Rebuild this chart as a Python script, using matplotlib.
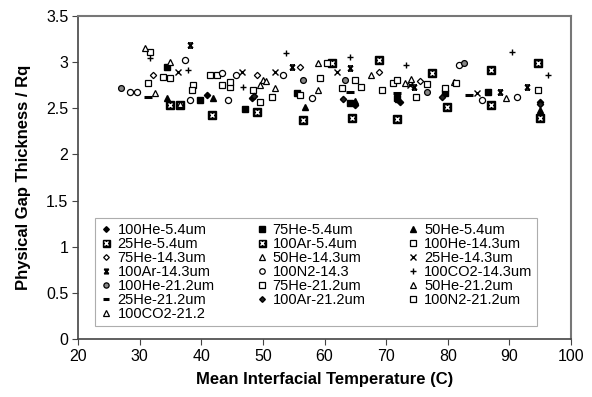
import matplotlib
matplotlib.use("Agg")
import matplotlib.pyplot as plt
from matplotlib.path import Path

plt.rcParams['font.family'] = ['Liberation Sans', 'DejaVu Sans']

# ---------------- data ----------------
he100_54_x = [40.9, 48.2, 64.9, 72.2, 94.9]
he100_54_y = [2.64, 2.61, 2.54, 2.57, 2.57]
he75_54_x = [34.4, 39.8, 47.1, 55.5, 64.1, 71.7, 79.5, 86.5]
he75_54_y = [2.95, 2.59, 2.49, 2.67, 2.56, 2.61, 2.67, 2.68]
he50_54_x = [34.4, 41.9, 56.8, 64.9, 72.0, 94.9]
he50_54_y = [2.61, 2.61, 2.51, 2.58, 2.60, 2.48]
he25_54_x = [34.9, 41.7, 49.0, 56.5, 64.4, 71.7, 79.8, 87.1, 94.9]
he25_54_y = [2.54, 2.43, 2.46, 2.37, 2.39, 2.38, 2.51, 2.54, 2.39]
ar100_54_x = [36.5, 61.2, 68.9, 77.5, 87.1, 94.6]
ar100_54_y = [2.54, 2.99, 3.02, 2.88, 2.91, 2.99]
he100_143_x = [31.7, 34.9, 42.5, 44.6, 49.5, 56.1, 64.9, 71.1, 79.5, 94.6]
he100_143_y = [3.11, 2.83, 2.86, 2.73, 2.57, 2.64, 2.81, 2.77, 2.72, 2.70]
he75_143_x = [32.2, 49.0, 56.0, 68.9, 75.5]
he75_143_y = [2.86, 2.86, 2.95, 2.89, 2.80]
he50_143_x = [34.9, 50.0, 58.9, 67.6, 81.0]
he50_143_y = [3.00, 2.81, 2.99, 2.86, 2.78]
he25_143_x = [36.2, 46.6, 51.9, 62.1, 84.7, 73.8]
he25_143_y = [2.89, 2.89, 2.89, 2.89, 2.67, 2.75]
ar100_143_x = [38.2, 54.8, 64.1, 74.6, 88.4, 92.8]
ar100_143_y = [3.19, 2.95, 2.94, 2.73, 2.68, 2.73]
n2100_143_x = [37.3, 43.3, 45.6, 53.2, 38.2, 44.3, 57.9, 81.9, 85.5, 91.3, 28.4, 29.6]
n2100_143_y = [3.02, 2.88, 2.86, 2.86, 2.59, 2.59, 2.61, 2.97, 2.59, 2.62, 2.68, 2.68]
co2100_143_x = [31.7, 37.8, 46.7, 53.8, 64.1, 73.3, 90.5, 96.2]
co2100_143_y = [3.04, 2.91, 2.73, 3.10, 3.06, 2.97, 3.11, 2.86]
he100_212_x = [27.0, 63.3, 76.7, 56.5, 82.7]
he100_212_y = [2.72, 2.81, 2.68, 2.81, 2.99]
he75_212_x = [33.8, 38.6, 43.3, 48.4, 59.2, 66.0, 71.7, 74.9, 81.4]
he75_212_y = [2.84, 2.75, 2.75, 2.70, 2.83, 2.73, 2.81, 2.62, 2.77]
he50_212_x = [32.5, 49.5, 58.9, 73.0, 89.5]
he50_212_y = [2.67, 2.75, 2.70, 2.77, 2.61]
he25_212_x = [31.3, 64.1, 71.7, 83.5]
he25_212_y = [2.62, 2.68, 2.67, 2.64]
ar100_212_x = [48.5, 63.0, 79.0, 95.0]
ar100_212_y = [2.63, 2.60, 2.62, 2.55]
n2100_212_x = [31.3, 38.5, 41.4, 44.6, 51.4, 60.4, 62.8, 69.4, 76.7]
n2100_212_y = [2.77, 2.70, 2.86, 2.78, 2.62, 2.99, 2.72, 2.70, 2.76]
co2100_212_x = [30.9, 36.5, 50.5, 52.0, 74.0]
co2100_212_y = [3.15, 2.55, 2.80, 2.72, 2.82]

labels = ['100He-5.4um', '75He-5.4um', '50He-5.4um', '25He-5.4um', '100Ar-5.4um',
          '100He-14.3um', '75He-14.3um', '50He-14.3um', '25He-14.3um', '100Ar-14.3um',
          '100N2-14.3', '100CO2-14.3um', '100He-21.2um', '75He-21.2um', '50He-21.2um',
          '25He-21.2um', '100Ar-21.2um', '100N2-21.2um', '100CO2-21.2']

xt = [20, 30, 40, 50, 60, 70, 80, 90, 100]
yt = [0, 0.5, 1, 1.5, 2, 2.5, 3, 3.5]
ytl = ['0', '0.5', '1', '1.5', '2', '2.5', '3', '3.5']

# hourglass marker
hour = Path([(-1, 1), (1, 1), (-1, -1), (1, -1), (-1, 1), (1, -1), (1, 1), (-1, -1)],
            [Path.MOVETO, Path.LINETO, Path.MOVETO, Path.LINETO,
             Path.MOVETO, Path.LINETO, Path.MOVETO, Path.LINETO])

K = 'black'
styles = [
    dict(marker='D', ms=3.2, mfc=K, mec=K),
    dict(marker='s', ms=4.2, mfc=K, mec=K),
    dict(marker='^', ms=4.6, mfc=K, mec=K),
    'sqx', 'sqx',
    dict(marker='s', ms=4.4, mfc='white', mec=K, mew=0.9),
    dict(marker='D', ms=3.2, mfc='white', mec=K, mew=0.9),
    dict(marker='^', ms=4.6, mfc='white', mec=K, mew=0.9),
    dict(marker='x', ms=4.5, mec=K, mew=1.0),
    dict(marker=hour, ms=3.6, mfc='none', mec=K, mew=1.2),
    dict(marker='o', ms=4.4, mfc='white', mec=K, mew=0.9),
    dict(marker='+', ms=4.8, mec=K, mew=1.0),
    dict(marker='o', ms=4.2, mfc='#888888', mec=K, mew=0.9),
    dict(marker='s', ms=4.4, mfc='white', mec=K, mew=0.9),
    dict(marker='^', ms=4.6, mfc='white', mec=K, mew=0.9),
    dict(marker='_', ms=5.5, mec=K, mew=2.2),
    dict(marker='D', ms=3.2, mfc='#222222', mec=K),
    dict(marker='s', ms=4.4, mfc='white', mec=K, mew=0.9),
    dict(marker='^', ms=4.6, mfc='white', mec=K, mew=0.9),
]
series = [(he100_54_x, he100_54_y), (he75_54_x, he75_54_y), (he50_54_x, he50_54_y),
          (he25_54_x, he25_54_y), (ar100_54_x, ar100_54_y), (he100_143_x, he100_143_y),
          (he75_143_x, he75_143_y), (he50_143_x, he50_143_y), (he25_143_x, he25_143_y),
          (ar100_143_x, ar100_143_y), (n2100_143_x, n2100_143_y), (co2100_143_x, co2100_143_y),
          (he100_212_x, he100_212_y), (he75_212_x, he75_212_y), (he50_212_x, he50_212_y),
          (he25_212_x, he25_212_y), (ar100_212_x, ar100_212_y), (n2100_212_x, n2100_212_y),
          (co2100_212_x, co2100_212_y)]

fig = plt.figure(figsize=(5.92, 3.97), dpi=100)
ax = fig.add_axes([0.1318, 0.146, 0.8327, 0.8137])

handles = []
for (xs, ys), st in zip(series, styles):
    if st == 'sqx':
        h1, = ax.plot(xs, ys, ls='none', marker='s', ms=5.6, mfc=K, mec=K)
        h2, = ax.plot(xs, ys, ls='none', marker='x', ms=3.2, mec='white', mew=1.0)
        handles.append((h1, h2))
    else:
        h, = ax.plot(xs, ys, ls='none', **st)
        handles.append(h)

ax.set_xlim(20, 100)
ax.set_ylim(0, 3.5)
ax.set_xticks(xt)
ax.set_yticks(yt)
ax.set_yticklabels(ytl)
ax.tick_params(axis='both', direction='out', length=4, width=0.8, labelsize=11.5,
               color='#444444', pad=3)
for s in ['left', 'bottom']:
    ax.spines[s].set_color('#444444')
    ax.spines[s].set_linewidth(1.2)
for s in ['top', 'right']:
    ax.spines[s].set_color('#777777')
    ax.spines[s].set_linewidth(1.5)

ax.set_xlabel('Mean Interfacial Temperature (C)', fontsize=12, fontweight='bold', labelpad=6)
ax.set_ylabel('Physical Gap Thickness / Rq', fontsize=12, fontweight='bold', labelpad=11)

# legend: row-major in 3 columns -> reorder for column-major fill
order = list(range(0, 19, 3)) + list(range(1, 19, 3)) + list(range(2, 19, 3))
leg = ax.legend([handles[i] for i in order], [labels[i] for i in order],
                ncol=3, loc='lower left', bbox_to_anchor=(0.034, 0.04, 0.898, 0.37),
                mode='expand', fontsize=10.5, frameon=True, fancybox=False,
                borderpad=0.35, labelspacing=0.0, handlelength=0.9, handletextpad=0.3,
                columnspacing=0.8, borderaxespad=0, markerscale=0.9)
leg.get_frame().set_edgecolor('#999999')
leg.get_frame().set_linewidth(0.8)

fig.savefig('out.png', dpi=100)
